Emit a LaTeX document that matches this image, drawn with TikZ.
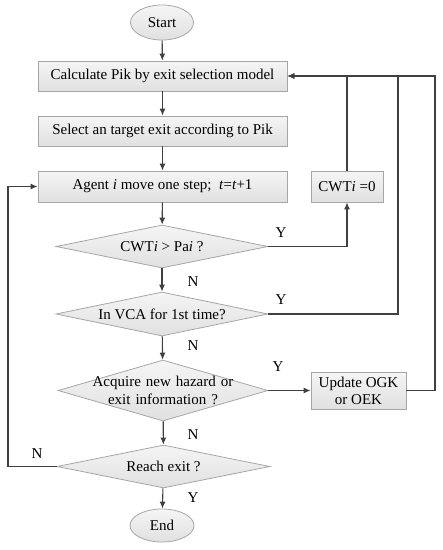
\documentclass[tikz,border=0pt]{standalone}
\usepackage{fontspec}
\setmainfont{Liberation Serif}
\usetikzlibrary{shapes.geometric,arrows.meta}
\definecolor{ln}{HTML}{404040}
\definecolor{bd}{HTML}{A6A6A6}
\begin{document}
\begin{tikzpicture}[x=1pt,y=-1pt,
  font=\fontsize{15}{17}\selectfont,
  shp/.style={draw=bd, line width=0.8pt, top color=white!96!black, bottom color=white!88!black, inner sep=0pt},
  boxa/.style={shp, rectangle, minimum width=249pt, minimum height=30pt},
  boxb/.style={shp, rectangle, minimum width=72pt, minimum height=31pt},
  term/.style={shp, ellipse, minimum width=63pt, minimum height=35pt},
  dia/.style={shp, diamond, minimum width=212pt, minimum height=44pt},
  conn/.style={draw=ln, line width=1.1pt},
  arr/.style={conn, -{Latex[length=7pt,width=6pt]}},
  lab/.style={inner sep=0pt}]
\useasboundingbox (0,0) rectangle (443,550);
\node[term] (start) at (162,22.5) {Start};
\node[boxa] (calc) at (162.5,76) {Calculate Pik by exit selection model};
\node[boxa] (sel) at (162.5,131) {Select an target exit according to Pik};
\node[boxa, minimum height=31pt] (agent) at (162.5,186.5) {Agent \textit{i} move one step;\ \ \textit{t}=\textit{t}+1};
\node[boxb] (cwt) at (347,186.5) {CWT\textit{i} =0};
\node[dia, minimum height=43pt, label=center:{CWT\textit{i} > Pa\textit{i} ?}] (d1) at (162,246.5) {};
\node[dia, label=center:{In VCA for 1st time?}] (d2) at (162,314) {};
\node[dia, minimum width=210pt, minimum height=61pt, label={[align=center, text width=150pt, font=\fontsize{15}{18}\selectfont]center:Acquire new hazard or\\exit information ?}] (d3) at (163,390.5) {};
\node[shp, rectangle, minimum width=95pt, minimum height=37pt, align=center, font=\fontsize{15}{17}\selectfont] (upd) at (358.5,390.5) {Update OGK\\or OEK};
\node[dia, minimum width=213pt, minimum height=43pt, label=center:{Reach exit ?}] (d4) at (163.5,466.5) {};
\node[term, minimum width=64pt, minimum height=33pt] (end) at (162,525.5) {End};
\coordinate (j1) at (398,76);
\coordinate (j2) at (435,76);
\coordinate (j3) at (8,466.5);
\draw[arr] (start) -- (calc);
\draw[arr] (calc) -- (sel);
\draw[arr] (sel) -- (agent);
\draw[arr] (agent) -- (d1);
\draw[arr] (d1) -- (d2);
\draw[arr] (d2) -- (d3);
\draw[arr] (d3) -- (d4);
\draw[arr] (d4) -- (end);
\draw[arr] (d1.east) -| (cwt.south);
\draw[arr] (cwt.north) |- (calc.east);
\draw[conn] (d2.east) -| (j1);
\draw[arr] (d3.east) -- (upd.west);
\draw[arr] (upd.east) -| (j2) -- (calc.east);
\draw[arr] (d4.west) -- (j3) |- (agent.west);
\node[lab] (y1) at (281,233) {Y};
\node[lab] (y2) at (281,300) {Y};
\node[lab] (y3) at (278,367) {Y};
\node[lab] (y4) at (193,498) {Y};
\node[lab] (n1) at (193,282) {N};
\node[lab] (n2) at (193,346) {N};
\node[lab] (n3) at (193,435) {N};
\node[lab] (n4) at (37,454) {N};
\end{tikzpicture}
\end{document}
